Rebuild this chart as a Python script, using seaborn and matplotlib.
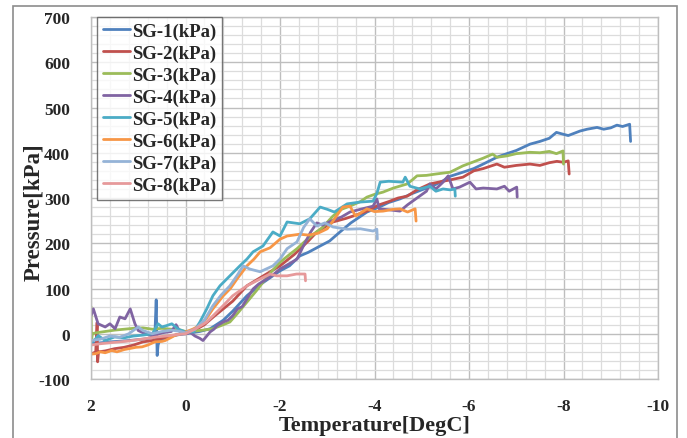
import numpy as np
import pandas as pd
import matplotlib
matplotlib.use("Agg")
import matplotlib.pyplot as plt
import seaborn as sns
from matplotlib.patches import Rectangle
from matplotlib.ticker import MultipleLocator

# ---------------- data ----------------
labels = ["SG-1(kPa)", "SG-2(kPa)", "SG-3(kPa)", "SG-4(kPa)",
          "SG-5(kPa)", "SG-6(kPa)", "SG-7(kPa)", "SG-8(kPa)"]
colors = ["#4F81BD", "#C0504D", "#9BBB59", "#8064A2",
          "#4BACC6", "#F79646", "#95B3D7", "#E6999A"]

sg1_t = [2.0, 1.6, 1.2, 0.9, 0.65, 0.62, 0.6, 0.58, 0.55, 0.4, 0.2, 0.0, -0.3, -0.52, -0.8, -1.0, -1.3,
         -1.6, -2.0, -2.2, -2.42, -2.6, -2.85, -3.05, -3.27, -3.5, -3.84, -4.1, -4.3, -4.54, -4.8, -5.0,
         -5.24, -5.45, -5.6, -5.87, -6.1, -6.3, -6.59, -6.8, -7.0, -7.29, -7.5, -7.7, -7.85, -7.99, -8.1,
         -8.35, -8.5, -8.71, -8.85, -9.0, -9.13, -9.25, -9.4, -9.42]
sg1_p = [-22, -18, -15, -12, -8, 75, -48, -25, -15, -8, -3, 0, 5, 11, 30, 50, 84,
         110, 139, 150, 172, 180, 194, 205, 225, 245, 269, 280, 290, 298, 310, 318,
         327, 338, 348, 357, 365, 375, 390, 398, 405, 419, 425, 432, 445, 441, 438,
         448, 452, 456, 452, 455, 461, 458, 463, 425]

sg2_t = [2.0, 1.9, 1.87, 1.86, 1.84, 1.7, 1.5, 1.3, 1.1, 0.9, 0.7, 0.5, 0.3, 0.1, 0.0, -0.2, -0.4,
         -0.6, -0.8, -1.0, -1.3, -1.6, -2.0, -2.3, -2.6, -2.78, -3.12, -3.4, -3.6, -3.84, -4.1, -4.3,
         -4.5, -4.69, -4.9, -5.17, -5.4, -5.6, -5.87, -6.1, -6.3, -6.59, -6.75, -7.0, -7.29, -7.5,
         -7.7, -7.86, -8.0, -8.1, -8.12]
sg2_p = [-45, -40, 25, -62, -40, -38, -33, -30, -25, -18, -15, -10, -5, 0, 0, 8, 20,
         38, 55, 72, 106, 125, 150, 175, 205, 225, 247, 255, 262, 271, 285, 292,
         300, 304, 318, 331, 336, 340, 346, 360, 365, 375, 368, 372, 375, 372,
         378, 381, 379, 382, 353]

sg3_t = [2.0, 1.99, 1.97, 1.9, 1.7, 1.5, 1.3, 1.1, 0.9, 0.7, 0.5, 0.3, 0.1, 0.0, -0.3, -0.58, -0.8,
         -0.94, -1.1, -1.3, -1.5, -1.64, -1.8, -2.0, -2.2, -2.36, -2.63, -2.9, -3.12, -3.3, -3.48,
         -3.7, -3.84, -4.0, -4.18, -4.4, -4.69, -4.8, -4.9, -5.1, -5.3, -5.6, -5.87, -6.1, -6.3,
         -6.5, -6.59, -6.8, -7.0, -7.29, -7.5, -7.7, -7.85, -7.99, -8.0]
sg3_p = [60, -15, 0, 2, 5, 8, 10, 12, 13, 10, 12, 10, 8, 5, 7, 11, 20,
         26, 45, 70, 95, 114, 135, 158, 175, 188, 214, 235, 260, 275, 282,
         292, 302, 308, 313, 322, 331, 340, 349, 350, 353, 357, 371, 380, 388,
         397, 390, 393, 398, 401, 400, 403, 398, 404, 375]

sg4_t = [2.0, 1.95, 1.85, 1.7, 1.6, 1.49, 1.39, 1.28, 1.17, 1.07, 1.0, 0.85, 0.7, 0.5, 0.3, 0.2,
         0.12, 0.0, -0.1, -0.2, -0.3, -0.37, -0.45, -0.52, -0.6, -0.67, -0.8, -0.9, -1.0, -1.1,
         -1.2, -1.3, -1.43, -1.55, -1.72, -1.85, -2.0, -2.2, -2.36, -2.5, -2.65, -2.78, -2.9,
         -3.1, -3.3, -3.48, -3.7, -3.97, -4.05, -4.1, -4.3, -4.54, -4.7, -4.9, -5.1, -5.17, -5.3,
         -5.45, -5.56, -5.66, -5.8, -6.02, -6.15, -6.3, -6.59, -6.75, -6.85, -7.01, -7.02]
sg4_p = [40, 55, 22, 15, 22, 11, 37, 33, 55, 22, 7, 0, -5, 2, 5, 20,
         5, 0, 3, -5, -10, -15, -5, 4, 10, 18, 26, 30, 40, 55,
         60, 77, 99, 110, 121, 130, 143, 155, 165, 195, 225, 245, 240,
         250, 258, 269, 275, 282, 298, 276, 274, 271, 285, 300, 315, 331, 320,
         335, 349, 320, 324, 335, 320, 322, 320, 326, 315, 324, 302]

sg5_t = [2.0, 1.9, 1.85, 1.7, 1.5, 1.3, 1.1, 0.9, 0.7, 0.58, 0.5, 0.4, 0.29, 0.15, 0.0, -0.17,
         -0.3, -0.45, -0.58, -0.73, -0.94, -1.15, -1.3, -1.43, -1.64, -1.85, -2.0, -2.15, -2.42,
         -2.63, -2.85, -3.0, -3.15, -3.42, -3.69, -3.97, -4.05, -4.12, -4.3, -4.6, -4.65, -4.75,
         -4.96, -5.17, -5.3, -5.45, -5.6, -5.7, -5.71]
sg5_p = [-20, -11, -4, -15, -7, -9, -5, -3, 0, 22, 15, 18, 22, 10, 4, 4,
         25, 55, 84, 106, 128, 150, 165, 181, 194, 225, 216, 247, 243,
         254, 280, 275, 269, 287, 291, 293, 310, 335, 337, 335, 346, 326,
         320, 326, 315, 320, 318, 320, 304]

sg6_t = [2.0, 1.9, 1.8, 1.7, 1.56, 1.45, 1.3, 1.2, 1.05, 0.92, 0.8, 0.65, 0.5, 0.43, 0.3, 0.23,
         0.1, 0.0, -0.15, -0.3, -0.45, -0.58, -0.8, -0.95, -1.09, -1.3, -1.45, -1.58, -1.79, -2.0,
         -2.15, -2.42, -2.6, -2.8, -3.0, -3.12, -3.33, -3.48, -3.6, -3.84, -4.0, -4.18, -4.4,
         -4.54, -4.7, -4.86, -4.88]
sg6_p = [-45, -44, -40, -42, -37, -40, -35, -33, -30, -29, -25, -18, -17, -15, -8, -4,
         0, 4, 10, 18, 35, 55, 84, 100, 121, 150, 165, 181, 190, 209,
         216, 220, 218, 222, 232, 249, 280, 282, 260, 276, 270, 271, 275,
         276, 269, 276, 249]

sg7_t = [2.0, 1.8, 1.6, 1.4, 1.2, 1.0, 0.9, 0.7, 0.5, 0.3, 0.1, 0.0, -0.2, -0.4, -0.58, -0.75,
         -0.94, -1.1, -1.22, -1.36, -1.58, -1.85, -2.0, -2.15, -2.36, -2.5, -2.63, -2.78, -2.95,
         -3.12, -3.42, -3.7, -3.97, -4.05, -4.06]
sg7_p = [-15, -12, -5, -8, 0, 15, 7, 0, 5, 8, 5, 2, 10, 30, 62, 85,
         106, 130, 150, 143, 137, 150, 165, 188, 203, 235, 254, 238, 245,
         236, 231, 232, 227, 231, 209]

sg8_t = [2.0, 1.8, 1.6, 1.4, 1.2, 1.0, 0.8, 0.6, 0.4, 0.2, 0.0, -0.2, -0.45, -0.73, -1.0, -1.3,
         -1.58, -1.79, -1.93, -2.15, -2.35, -2.53, -2.54]
sg8_p = [-25, -22, -20, -18, -16, -13, -10, -7, -5, -2, 0, 10, 26, 55, 84, 106,
         121, 132, 128, 128, 132, 132, 117]

x_ticks = [2, 0, -2, -4, -6, -8, -10]
y_ticks = [-100, 0, 100, 200, 300, 400, 500, 600, 700]

series_t = [sg1_t, sg2_t, sg3_t, sg4_t, sg5_t, sg6_t, sg7_t, sg8_t]
series_p = [sg1_p, sg2_p, sg3_p, sg4_p, sg5_p, sg6_p, sg7_p, sg8_p]

frames = []
for lab, t, p in zip(labels, series_t, series_p):
    frames.append(pd.DataFrame({"Temperature": t, "Pressure": p, "Series": lab}))
df = pd.concat(frames, ignore_index=True)

# ---------------- style ----------------
sns.set_theme(style="white")
plt.rcParams["font.family"] = ["Liberation Serif", "DejaVu Serif"]
plt.rcParams["font.weight"] = "bold"
plt.rcParams["axes.unicode_minus"] = False

fig = plt.figure(figsize=(6.87, 4.39), dpi=100)
ax = fig.add_axes([91 / 687, 1 - 380 / 439, 567 / 687, 362 / 439])

for lab, col in zip(labels, colors):
    sub = df[df["Series"] == lab]
    sns.lineplot(data=sub, x="Temperature", y="Pressure", sort=False, estimator=None,
                 color=col, linewidth=2.0, ax=ax, label=lab)

ax.set_xlim(2, -10)
ax.set_ylim(-100, 700)
ax.set_xticks(x_ticks)
ax.set_xticklabels([str(v) for v in x_ticks])
ax.set_yticks(y_ticks)
ax.set_yticklabels([str(v) for v in y_ticks])
ax.xaxis.set_minor_locator(MultipleLocator(0.4))
ax.yaxis.set_minor_locator(MultipleLocator(20))
ax.grid(True, which="major", color="#BEBEBE", linewidth=1.0)
ax.grid(True, which="minor", color="#DCDCDC", linewidth=0.9)
ax.set_axisbelow(True)
ax.tick_params(which="both", length=0)
ax.tick_params(axis="x", labelsize=12.5, pad=14)
ax.tick_params(axis="y", labelsize=12.5, pad=15)
for lbl in ax.get_xticklabels() + ax.get_yticklabels():
    lbl.set_fontweight("bold")
for s in ax.spines.values():
    s.set_color("#BEBEBE")
    s.set_linewidth(1.0)

ax.set_xlabel("Temperature[DegC]", fontsize=16, fontweight="bold")
ax.set_ylabel("Pressure[kPa]", fontsize=16.5, fontweight="bold")
ax.xaxis.set_label_coords(0.5, (380 - 416) / 362)
ax.xaxis.label.set_va("top")
ax.yaxis.set_label_coords((44 - 91) / 567, (380 - 212) / 362)

leg = ax.legend(loc="upper left", bbox_to_anchor=(6 / 567, 1.0), borderaxespad=0,
                frameon=True, fancybox=False, shadow=False, prop={"size": 13.5, "weight": "bold"},
                handlelength=1.45, handletextpad=0.1, labelspacing=0.25, borderpad=0.3)
leg.get_frame().set_edgecolor("#555555")
leg.get_frame().set_linewidth(1.0)
for h in leg.get_lines():
    h.set_linewidth(2.0)

fig.patches.append(Rectangle((13 / 687, -0.05), (677 - 13) / 687, 1 - 7 / 439 + 0.05,
                             transform=fig.transFigure, fill=False, edgecolor="#8C8C8C",
                             linewidth=1.2, zorder=-1))

fig.savefig("out.png", dpi=100)
